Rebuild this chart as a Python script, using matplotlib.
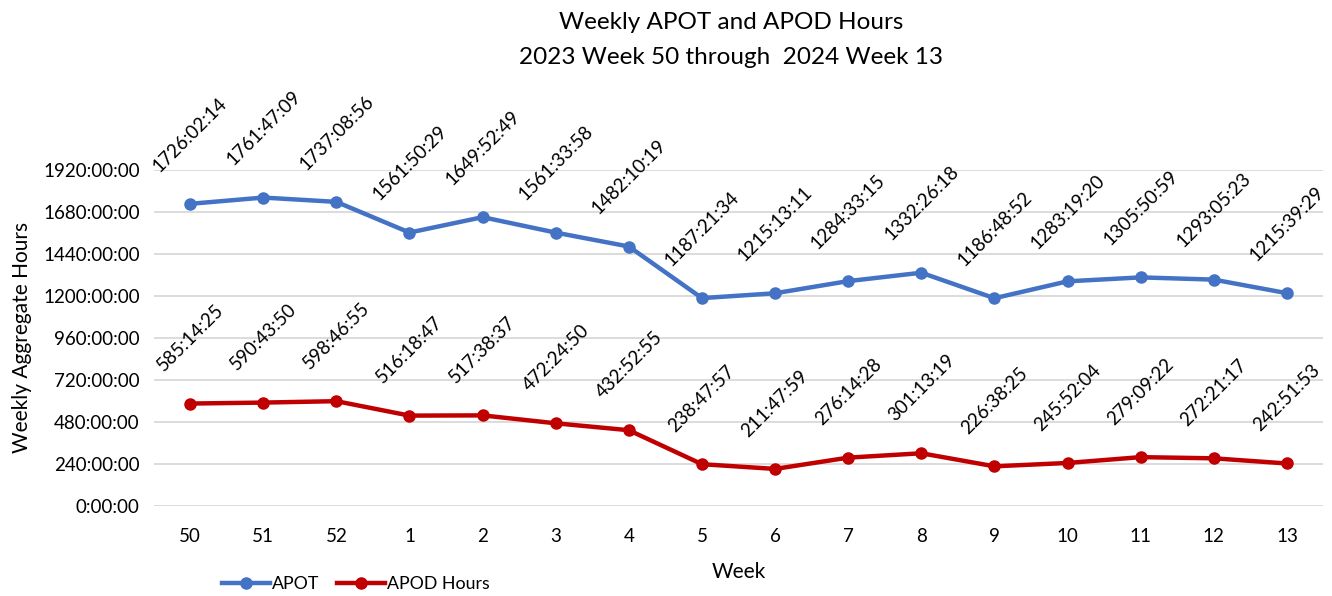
import matplotlib.pyplot as plt
import numpy as np

plt.rcParams['font.family'] = ['Lato', 'DejaVu Sans']

weeks = ['50', '51', '52', '1', '2', '3', '4', '5', '6', '7', '8', '9', '10', '11', '12', '13']
apot = ['1726:02:14', '1761:47:09', '1737:08:56', '1561:50:29', '1649:52:49', '1561:33:58',
        '1482:10:19', '1187:21:34', '1215:13:11', '1284:33:15', '1332:26:18', '1186:48:52',
        '1283:19:20', '1305:50:59', '1293:05:23', '1215:39:29']
apod = ['585:14:25', '590:43:50', '598:46:55', '516:18:47', '517:38:37', '472:24:50',
        '432:52:55', '238:47:57', '211:47:59', '276:14:28', '301:13:19', '226:38:25',
        '245:52:04', '279:09:22', '272:21:17', '242:51:53']
yticks = [0, 240, 480, 720, 960, 1200, 1440, 1680, 1920]


def to_hours(s):
    h, m, sec = s.split(':')
    return int(h) + int(m) / 60 + int(sec) / 3600


fig = plt.figure(figsize=(13.32, 5.96), dpi=100)
ax = fig.add_axes([0.1153, 0.151, 0.8783, 0.564])

x = np.arange(len(weeks))
series = [('APOT', apot, '#4472C4'), ('APOD Hours', apod, '#C00000')]
for name, vals, col in series:
    y = [to_hours(v) for v in vals]
    ax.plot(x, y, color=col, lw=3.2, marker='o', ms=8, label=name, zorder=3)
    for xi, yi, txt in zip(x, y, vals):
        ax.annotate(txt, (xi, yi), xytext=(0, 21), textcoords='offset points',
                    ha='center', va='bottom', rotation=45, fontsize=13.5,
                    annotation_clip=False)

ax.set_xlim(-0.5, len(weeks) - 0.5)
ax.set_ylim(0, 1920)
ax.set_yticks(yticks)
ax.set_yticklabels(['%d:00:00' % t for t in yticks])
ax.set_xticks(x)
ax.set_xticklabels(weeks)
ax.tick_params(length=0, labelsize=13.5)
ax.tick_params(axis='x', pad=16)
ax.tick_params(axis='y', pad=10)
ax.grid(axis='y', color='#D9D9D9', lw=1.3)
ax.set_axisbelow(True)
for s in ax.spines.values():
    s.set_visible(False)

ax.set_xlabel('Week', fontsize=15, labelpad=12)
ax.set_ylabel('Weekly Aggregate Hours', fontsize=15, labelpad=8)

fig.text(0.549, 0.963, 'Weekly APOT and APOD Hours', ha='center', va='center', fontsize=17.5)
fig.text(0.549, 0.903, '2023 Week 50 through  2024 Week 13', ha='center', va='center', fontsize=17.5)

fig.legend(loc='lower left', bbox_to_anchor=(0.155, -0.02), ncol=2, frameon=False,
           fontsize=12.8, handlelength=2.7, columnspacing=1.0, handletextpad=0.1)

fig.savefig('out.png', dpi=100)
